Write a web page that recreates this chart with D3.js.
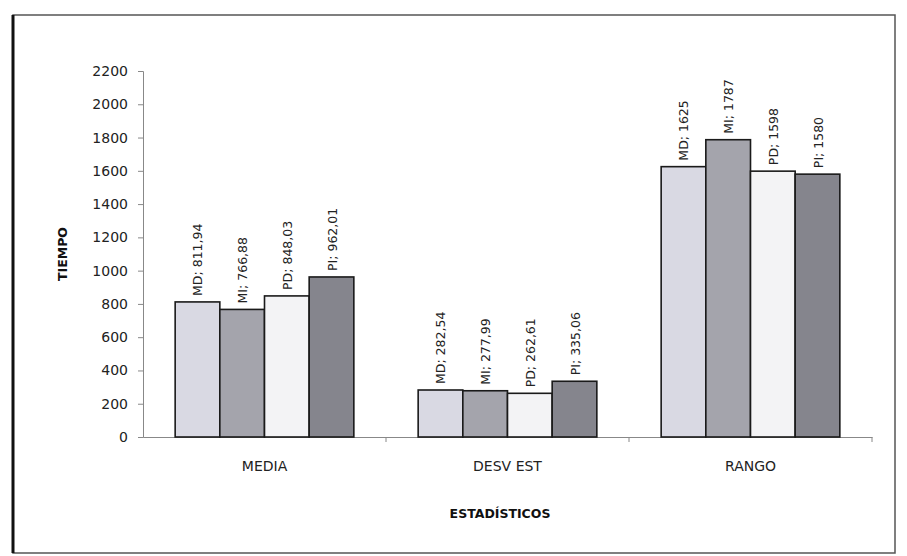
<!DOCTYPE html>
<html>
<head>
<meta charset="utf-8">
<script src="https://cdn.jsdelivr.net/npm/d3@7"></script>
<style>
  body { margin: 0; background: #fff; }
  svg { display: block; font-family: "DejaVu Sans", sans-serif; }
</style>
</head>
<body>
<svg id="chart" width="907" height="556"></svg>
<script>
// data
const categories = ["MEDIA", "DESV EST", "RANGO"];
const seriesNames = ["MD", "MI", "PD", "PI"];
const MD = [811.94, 282.54, 1625];
const MI = [766.88, 277.99, 1787];
const PD = [848.03, 262.61, 1598];
const PI = [962.01, 335.06, 1580];
const yTicks = [0, 200, 400, 600, 800, 1000, 1200, 1400, 1600, 1800, 2000, 2200];

const seriesValues = [MD, MI, PD, PI];
const colors = ["#d9d9e3", "#a4a4ac", "#f3f3f5", "#85858d"];

const svg = d3.select("#chart");
const margin = { left: 143, right: 35, top: 71, bottom: 119 };
const W = 907, H = 556;

// frame of the scanned chart
svg.append("rect")
  .attr("x", 13).attr("y", 15)
  .attr("width", 882).attr("height", 538)
  .attr("fill", "none")
  .attr("stroke", "#555")
  .attr("stroke-width", 1.5);
svg.append("line")
  .attr("x1", 13).attr("x2", 13).attr("y1", 15).attr("y2", 553)
  .attr("stroke", "#111").attr("stroke-width", 3);

const x = d3.scaleBand()
  .domain(categories)
  .range([margin.left, W - margin.right]);

const xInner = d3.scaleBand()
  .domain(seriesNames)
  .range([0, x.bandwidth()])
  .paddingOuter(0.72)
  .paddingInner(0);

const y = d3.scaleLinear()
  .domain([0, 2200])
  .range([H - margin.bottom, margin.top]);

// number like "811,94" (decimal comma, no thousands separator)
const fmt = v => String(v).replace(".", ",");

// y axis
const yAxis = svg.append("g")
  .attr("transform", `translate(${margin.left},0)`)
  .call(d3.axisLeft(y).tickValues(yTicks).tickFormat(d3.format("d")).tickSize(5).tickPadding(10));
yAxis.select(".domain").attr("stroke", "#888");
yAxis.selectAll(".tick line").attr("stroke", "#888");
yAxis.selectAll(".tick text")
  .attr("font-family", "DejaVu Sans")
  .attr("font-size", 14)
  .attr("fill", "#222");

// x axis
const xAxis = svg.append("g")
  .attr("transform", `translate(0,${y(0)})`)
  .call(d3.axisBottom(x).tickSize(0).tickPadding(24));
xAxis.select(".domain").attr("stroke", "#888");
xAxis.selectAll(".tick text")
  .attr("font-family", "DejaVu Sans")
  .attr("font-size", 14)
  .attr("fill", "#222");
// category separator ticks
xAxis.selectAll(".sep")
  .data(categories)
  .enter().append("line")
  .attr("x1", d => x(d) + x.bandwidth())
  .attr("x2", d => x(d) + x.bandwidth())
  .attr("y1", 0).attr("y2", 5)
  .attr("stroke", "#888");

// bars
const groups = svg.append("g").selectAll("g")
  .data(categories)
  .enter().append("g")
  .attr("transform", d => `translate(${x(d)},0)`);

groups.each(function (cat, ci) {
  const g = d3.select(this);
  seriesNames.forEach((s, si) => {
    const v = seriesValues[si][ci];
    g.append("rect")
      .attr("x", xInner(s))
      .attr("y", y(v))
      .attr("width", xInner.bandwidth())
      .attr("height", y(0) - y(v))
      .attr("fill", colors[si])
      .attr("stroke", "#1a1a1a")
      .attr("stroke-width", 1.6);

    const lx = xInner(s) + xInner.bandwidth() / 2 + 5;
    const ly = y(v) - 6;
    g.append("text")
      .attr("transform", `translate(${lx},${ly}) rotate(-90)`)
      .attr("font-size", 12.5)
      .attr("fill", "#222")
      .text(`${s}; ${fmt(v)}`);
  });
});

// axis titles
svg.append("text")
  .attr("transform", `translate(67,${(y(0) + y(2200)) / 2}) rotate(-90)`)
  .attr("text-anchor", "middle")
  .attr("font-size", 12.5)
  .attr("font-weight", "bold")
  .attr("fill", "#111")
  .text("TIEMPO");

svg.append("text")
  .attr("x", 500).attr("y", 518)
  .attr("text-anchor", "middle")
  .attr("font-size", 12.5)
  .attr("font-weight", "bold")
  .attr("fill", "#111")
  .text("ESTADÍSTICOS");
</script>
</body>
</html>
